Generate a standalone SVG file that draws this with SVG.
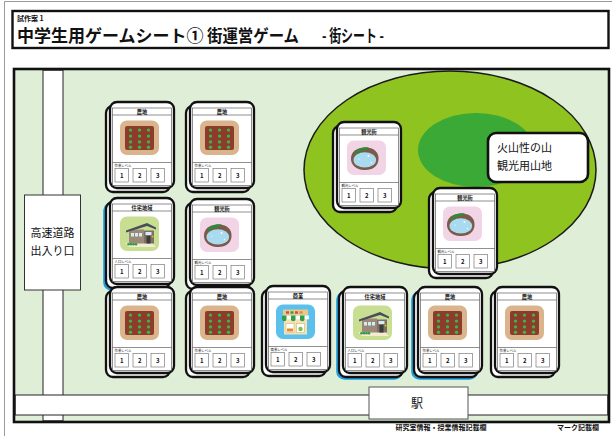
<svg xmlns="http://www.w3.org/2000/svg" xmlns:xlink="http://www.w3.org/1999/xlink" width="612" height="436" viewBox="0 0 612 436">
<style>
  text { font-family: "Noto Sans CJK JP", "Noto Sans", sans-serif; fill: #111; }
  .page { fill: none; stroke: #9a9a9a; stroke-width: 1; }
  .front { fill: #fff; stroke: #111; stroke-width: 2.3; }
  .back { fill: #fff; stroke: #111; stroke-width: 2.3; }
  .blue { fill: #fff; stroke: #1b9de2; stroke-width: 2.6; }
  .inner { fill: #fff; stroke: #444; stroke-width: 0.6; }
  .rule { stroke: #444; stroke-width: 0.6; fill: none; }
  .nbox { fill: #fff; stroke: #666; stroke-width: 0.6; }
  .ctitle { font-size: 5.2px; font-weight: 700; text-anchor: middle; }
  .clevel { font-size: 3.4px; }
  .num { font-size: 6px; font-weight: 700; text-anchor: middle; }
  .road { fill: #fff; stroke: #222; stroke-width: 1; }
  .label { font-size: 11px; }
  .foot { font-size: 7px; font-weight: 700; text-anchor: middle; }
</style>
<defs>
  <!-- common card body: stacked back sheet, front sheet, header, level boxes -->
  <g id="card-base">
    <rect class="back" x="-4" y="4" width="64" height="86" rx="7"/>
    <rect class="front" x="0" y="0" width="64" height="86" rx="7"/>
    <rect class="inner" x="2.5" y="6" width="59" height="77.5"/>
    <line class="rule" x1="2.5" y1="13" x2="61.5" y2="13"/>
    <line class="rule" x1="2.5" y1="60.5" x2="61.5" y2="60.5"/>
    <rect class="nbox" x="5" y="66.5" width="13.5" height="13.5"/>
    <rect class="nbox" x="23" y="66.5" width="13.5" height="13.5"/>
    <rect class="nbox" x="41" y="66.5" width="13.5" height="13.5"/>
    <text class="num" x="11.75" y="75.6">1</text>
    <text class="num" x="29.75" y="75.6">2</text>
    <text class="num" x="47.75" y="75.6">3</text>
  </g>
  <!-- blue sheet peeking out behind some cards -->
  <rect id="card-blue" class="blue" x="-5.5" y="5.5" width="64" height="86" rx="7"/>

  <!-- farmland icon -->
  <g id="icon-farm">
    <rect width="39" height="34.5" rx="7" fill="#d9b48c"/>
    <rect x="5" y="5.5" width="29" height="24" rx="2" fill="#8d3b2a"/>
    <g fill="#3db54a">
      <circle cx="10.5" cy="9.6" r="1.7"/><circle cx="19.5" cy="9.6" r="1.7"/><circle cx="28.5" cy="9.6" r="1.7"/>
      <circle cx="10.5" cy="15.6" r="1.7"/><circle cx="19.5" cy="15.6" r="1.7"/><circle cx="28.5" cy="15.6" r="1.7"/>
      <circle cx="10.5" cy="21.4" r="1.7"/><circle cx="19.5" cy="21.4" r="1.7"/><circle cx="28.5" cy="21.4" r="1.7"/>
      <circle cx="10.5" cy="26.8" r="1.7"/><circle cx="19.5" cy="26.8" r="1.7"/><circle cx="28.5" cy="26.8" r="1.7"/>
    </g>
  </g>

  <!-- residential icon -->
  <g id="icon-house">
    <rect width="39" height="34.5" rx="7" fill="#c8de92"/>
    <polygon points="5,26.5 32,26.5 36,30.5 9,30.5" fill="#f3ecd3"/>
    <rect x="9" y="13" width="15" height="14" fill="#9b8a78"/>
    <rect x="24" y="14" width="10" height="13" fill="#7c7164"/>
    <polygon points="6,14 27,6.5 36,11 36,13 27,9.6 6,16" fill="#4a4e57"/>
    <rect x="11" y="16.5" width="3" height="3.5" fill="#d4ecf6"/>
    <rect x="15" y="16.5" width="3" height="3.5" fill="#d4ecf6"/>
    <rect x="19" y="16.5" width="3" height="3.5" fill="#d4ecf6"/>
    <rect x="25.5" y="15.5" width="6" height="3" fill="#d4ecf6"/>
    <rect x="26.5" y="19.5" width="4" height="7.5" fill="#3b3b3b"/>
    <circle cx="32.5" cy="20" r="1" fill="#f5b400"/>
    <g fill="#2f9b3f">
      <circle cx="8.5" cy="27.8" r="1.3"/><circle cx="11" cy="27.8" r="1.3"/>
      <circle cx="13.5" cy="27.8" r="1.3"/><circle cx="16" cy="27.8" r="1.3"/>
    </g>
  </g>

  <!-- hot-spring / sightseeing icon -->
  <g id="icon-onsen">
    <rect width="39" height="34.5" rx="7" fill="#f2d4e7"/>
    <path d="M4,19 C3.5,11 10,7 18,7 C27,7 32,11.5 31.5,19 C31,26 25,30 17,29.5 C9,29 4.5,25 4,19 Z" fill="#7b5a49"/>
    <ellipse cx="17.8" cy="19.4" rx="11.3" ry="7.6" fill="#a8daf0"/>
    <path d="M7.5,13 C9.5,8.5 15,6.2 21,6.8 C22.5,7 21,9 18,9.6 C14,10.4 11,11.8 8.5,14 Z" fill="#2e8b3b"/>
    <circle cx="21.5" cy="15.5" r="0.9" fill="#fff"/>
    <circle cx="24.5" cy="22" r="0.7" fill="#fff"/>
    <circle cx="12" cy="18.5" r="0.6" fill="#fff"/>
  </g>

  <!-- commerce icon -->
  <g id="icon-shop">
    <rect width="39" height="34.5" rx="7" fill="#5bc0ec"/>
    <rect x="8" y="14" width="23" height="16" fill="#f4e3b2"/>
    <rect x="7" y="5" width="25" height="6" fill="#e8c98c"/>
    <rect x="10" y="6.8" width="3" height="2.4" fill="#d24b4b"/>
    <rect x="14.5" y="6.8" width="3" height="2.4" fill="#3d9a47"/>
    <rect x="19" y="6.8" width="3" height="2.4" fill="#d24b4b"/>
    <rect x="23.5" y="6.8" width="3" height="2.4" fill="#e08a2e"/>
    <rect x="6" y="11" width="27" height="3.8" fill="#fff"/>
    <g fill="#2f9e49">
      <path d="M6,11 h4.5 v3.8 a2.25,2 0 0 1 -4.5,0 Z"/>
      <path d="M15,11 h4.5 v3.8 a2.25,2 0 0 1 -4.5,0 Z"/>
      <path d="M24,11 h4.5 v3.8 a2.25,2 0 0 1 -4.5,0 Z"/>
    </g>
    <rect x="10" y="19" width="8" height="9" fill="#fff" stroke="#c9a96a" stroke-width="0.5"/>
    <rect x="20.5" y="19" width="8" height="9" fill="#fff" stroke="#c9a96a" stroke-width="0.5"/>
    <rect x="11" y="24" width="6" height="3" fill="#e08a2e"/>
    <circle cx="24.5" cy="24.5" r="2.2" fill="#7cc242"/>
  </g>
</defs>

<!-- page frame -->
<polyline class="page" points="4.5,436 4.5,1.5 612,1.5"/>

<!-- title block -->
<g id="title">
  <rect x="12.5" y="11" width="596" height="37" fill="#fff" stroke="#111" stroke-width="2.4"/>
  <text x="17" y="21" font-size="7" font-weight="700">試作案 1</text>
  <text x="17" y="42" font-size="17" font-weight="700">中学生用ゲームシート①</text>
  <text x="207" y="42" font-size="17" font-weight="700" textLength="92" lengthAdjust="spacingAndGlyphs">街運営ゲーム</text>
  <text x="322" y="42" font-size="17" font-weight="700" textLength="62" lengthAdjust="spacingAndGlyphs">- 街シート -</text>
</g>

<!-- town map ground -->
<g id="map">
  <rect x="14" y="69" width="595" height="353" fill="#dfeed6" stroke="#111" stroke-width="2.6"/>
  <rect class="road" x="43" y="70.3" width="20" height="350.4"/>
  <rect class="road" x="15.3" y="395" width="592.4" height="20"/>
</g>

<!-- volcano -->
<g id="volcano">
  <ellipse cx="450" cy="170" rx="146" ry="99" fill="#8fc320" stroke="#1a1a1a" stroke-width="1.5"/>
  <ellipse cx="476" cy="150" rx="58" ry="37" fill="#3aa935"/>
</g>
<g id="volcano-label">
  <rect x="488" y="133" width="100" height="49" rx="8" fill="#fff" stroke="#111" stroke-width="2.6"/>
  <text class="label" x="497" y="152">火山性の山</text>
  <text class="label" x="497" y="170">観光用山地</text>
</g>

<!-- expressway entrance -->
<g id="expressway">
  <rect x="24.5" y="195" width="56" height="95" fill="#fff" stroke="#333" stroke-width="1"/>
  <text class="label" x="52.5" y="237" text-anchor="middle">高速道路</text>
  <text class="label" x="52.5" y="255" text-anchor="middle">出入り口</text>
</g>

<!-- station -->
<g id="station">
  <rect x="369" y="387" width="99" height="32" fill="#fff" stroke="#555" stroke-width="1"/>
  <text x="417" y="408" font-size="12" text-anchor="middle">駅</text>
</g>

<!-- cards -->
<g id="card-farm-a1" transform="translate(110,102)">
  <use xlink:href="#card-base"/>
  <text class="ctitle" x="32" y="11.5">農地</text>
  <use xlink:href="#icon-farm" x="10" y="18.5"/>
  <text class="clevel" x="4.5" y="64.8">作業レベル</text>
</g>
<g id="card-farm-a2" transform="translate(190,102)">
  <use xlink:href="#card-base"/>
  <text class="ctitle" x="32" y="11.5">農地</text>
  <use xlink:href="#icon-farm" x="10" y="18.5"/>
  <text class="clevel" x="4.5" y="64.8">作業レベル</text>
</g>
<g id="card-house-b1" transform="translate(110,198)">
  <use xlink:href="#card-blue"/>
  <use xlink:href="#card-base"/>
  <text class="ctitle" x="32" y="11.5">住宅地域</text>
  <use xlink:href="#icon-house" x="10" y="18.5"/>
  <text class="clevel" x="4.5" y="64.8">人口レベル</text>
</g>
<g id="card-sight-b2" transform="translate(190,199)">
  <use xlink:href="#card-base"/>
  <text class="ctitle" x="32" y="11.5">観光街</text>
  <use xlink:href="#icon-onsen" x="10" y="18.5"/>
  <text class="clevel" x="4.5" y="64.8">観光レベル</text>
</g>
<g id="card-farm-c1" transform="translate(110,287)">
  <use xlink:href="#card-base"/>
  <text class="ctitle" x="32" y="11.5">農地</text>
  <use xlink:href="#icon-farm" x="10" y="18.5"/>
  <text class="clevel" x="4.5" y="64.8">作業レベル</text>
</g>
<g id="card-farm-c2" transform="translate(190,287)">
  <use xlink:href="#card-base"/>
  <text class="ctitle" x="32" y="11.5">農地</text>
  <use xlink:href="#icon-farm" x="10" y="18.5"/>
  <text class="clevel" x="4.5" y="64.8">作業レベル</text>
</g>
<g id="card-shop-c3" transform="translate(266,286)">
  <use xlink:href="#card-base"/>
  <text class="ctitle" x="32" y="11.5">商業</text>
  <use xlink:href="#icon-shop" x="10" y="18.5"/>
  <text class="clevel" x="4.5" y="64.8">商業レベル</text>
</g>
<g id="card-house-c4" transform="translate(343,287)">
  <use xlink:href="#card-blue"/>
  <use xlink:href="#card-base"/>
  <text class="ctitle" x="32" y="11.5">住宅地域</text>
  <use xlink:href="#icon-house" x="10" y="18.5"/>
  <text class="clevel" x="4.5" y="64.8">人口レベル</text>
</g>
<g id="card-farm-c5" transform="translate(418,287)">
  <use xlink:href="#card-blue"/>
  <use xlink:href="#card-base"/>
  <text class="ctitle" x="32" y="11.5">農地</text>
  <use xlink:href="#icon-farm" x="10" y="18.5"/>
  <text class="clevel" x="4.5" y="64.8">作業レベル</text>
</g>
<g id="card-farm-c6" transform="translate(495,287)">
  <use xlink:href="#card-base"/>
  <text class="ctitle" x="32" y="11.5">農地</text>
  <use xlink:href="#icon-farm" x="10" y="18.5"/>
  <text class="clevel" x="4.5" y="64.8">作業レベル</text>
</g>
<g id="card-sight-v1" transform="translate(337,122)">
  <use xlink:href="#card-base"/>
  <text class="ctitle" x="32" y="11.5">観光街</text>
  <use xlink:href="#icon-onsen" x="10" y="18.5"/>
  <text class="clevel" x="4.5" y="64.8">観光レベル</text>
</g>
<g id="card-sight-v2" transform="translate(433,188)">
  <use xlink:href="#card-base"/>
  <text class="ctitle" x="32" y="11.5">観光街</text>
  <use xlink:href="#icon-onsen" x="10" y="18.5"/>
  <text class="clevel" x="4.5" y="64.8">観光レベル</text>
</g>

<!-- footer notes -->
<g id="footer">
  <text class="foot" x="441" y="430">研究室情報・授業情報記載欄</text>
  <text class="foot" x="578" y="430">マーク記載欄</text>
</g>
</svg>
